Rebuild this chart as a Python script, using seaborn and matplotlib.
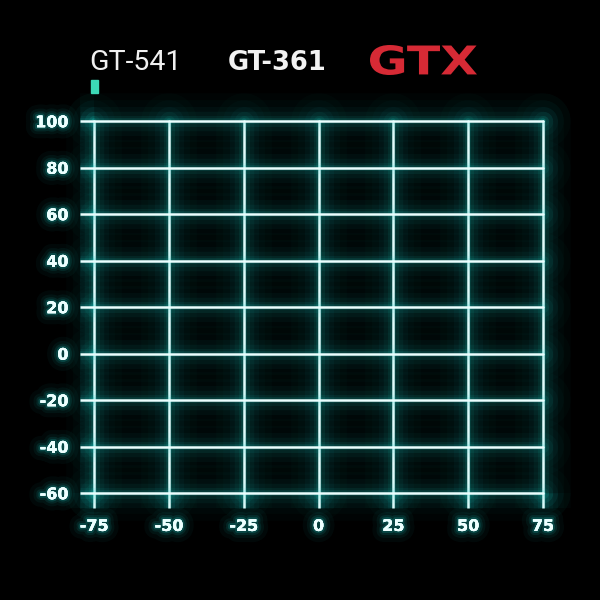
import matplotlib
matplotlib.use("Agg")
import matplotlib.pyplot as plt
import matplotlib.patheffects as pe
from matplotlib.patches import Rectangle, PathPatch
from matplotlib.textpath import TextPath
from matplotlib.font_manager import FontProperties
from matplotlib.transforms import Affine2D
import seaborn as sns

# axis ticks
x_ticks = [-75, -50, -25, 0, 25, 50, 75]
y_ticks = [-60, -40, -20, 0, 20, 40, 60, 80, 100]
header_labels = ["GT-541", "GT-361", "GTX"]

line_col = "#eafefe"
glow_col = "#1fd6d0"
bg = "#000000"

sns.set_theme(style="dark", rc={"axes.facecolor": bg, "figure.facecolor": bg,
                                "savefig.facecolor": bg})
plt.rcParams['font.family'] = ['DejaVu Sans']
plt.rcParams['axes.unicode_minus'] = False

# soft glow: several wide, faint strokes under the line
glow = [pe.Stroke(linewidth=w, foreground=glow_col, alpha=a)
        for w, a in [(40, 0.018), (30, 0.025), (21, 0.035), (14, 0.05), (8, 0.07), (4, 0.12)]]
glow.append(pe.Normal())
text_glow = [pe.withStroke(linewidth=w, foreground=glow_col, alpha=a)
             for w, a in [(16, 0.04), (10, 0.06), (6, 0.1), (3, 0.18)]]
text_glow.append(pe.Normal())

fig = plt.figure(figsize=(6, 6), dpi=100)
ax = fig.add_axes([0.157, 0.178, 0.748, 0.62])
ax.set_facecolor(bg)
ax.set_xlim(x_ticks[0], x_ticks[-1])
ax.set_ylim(y_ticks[0], y_ticks[-1])
ax.set_xticks(x_ticks)
ax.set_yticks(y_ticks)
ax.grid(True, color=line_col, linewidth=1.8)
for gl in ax.get_xgridlines() + ax.get_ygridlines():
    gl.set_path_effects(glow)
    gl.set_clip_on(False)
sns.despine(ax=ax, left=True, bottom=True)
ax.tick_params(axis="both", bottom=True, left=True, length=10.5, width=1.8,
               color=line_col, labelcolor="#eeffff", labelsize=11.5, pad=8)
for t in ax.xaxis.get_major_ticks() + ax.yaxis.get_major_ticks():
    t.tick1line.set_path_effects(glow)
for lab in ax.get_xticklabels() + ax.get_yticklabels():
    lab.set_fontweight("bold")
    lab.set_path_effects(text_glow)

# header
fig.text(0.149, 0.883, header_labels[0], color="#f0f0f0", fontsize=20.5,
         fontweight="normal", family=["Roboto", "DejaVu Sans"], va="baseline")
fig.text(0.379, 0.883, header_labels[1], color="#f2f2f2", fontsize=18.5,
         fontweight="bold", va="baseline")

# wide red logo, stretched into its box
tp = TextPath((0, 0), header_labels[2], size=1,
              prop=FontProperties(family="DejaVu Sans", weight="bold"))
ext = tp.get_extents()
x0, x1, y0, y1 = 370 / 600, 477 / 600, 1 - 75 / 600, 1 - 45 / 600
tr = (Affine2D().translate(-ext.x0, -ext.y0)
      .scale((x1 - x0) / ext.width, (y1 - y0) / ext.height)
      .translate(x0, y0))
fig.patches.append(PathPatch(tr.transform_path(tp), transform=fig.transFigure,
                             facecolor="#d62a35", edgecolor="none", figure=fig))
fig.patches.append(Rectangle((0.151, 0.845), 0.013, 0.022, transform=fig.transFigure,
                             color="#3cd9b6", figure=fig))

fig.savefig("out.png", dpi=100)
